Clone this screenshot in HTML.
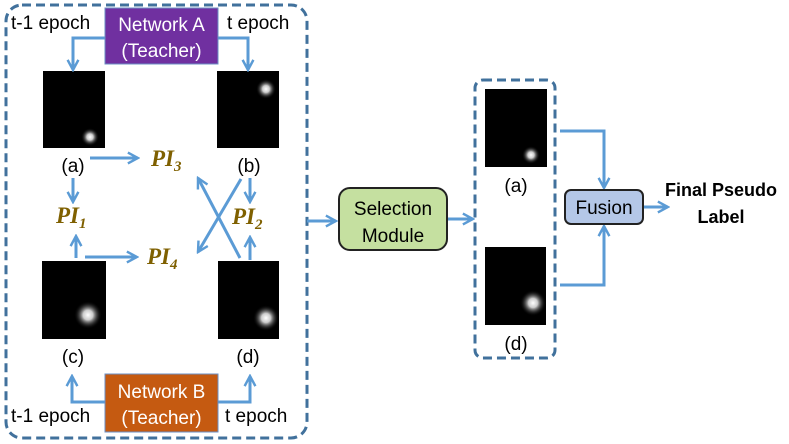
<!DOCTYPE html>
<html><head><meta charset="utf-8"><style>
html,body{margin:0;padding:0;background:#fff;}
svg{display:block;}
text{font-family:"Liberation Sans",sans-serif;}
.pi{font-family:"Liberation Serif",serif;font-weight:bold;font-style:italic;fill:#7f6000;font-size:23px;}
.pis{font-family:"Liberation Serif",serif;font-weight:bold;fill:#7f6000;font-size:15px;}
</style></head><body>
<svg width="789" height="444" viewBox="0 0 789 444" xmlns="http://www.w3.org/2000/svg">
<defs>
<marker id="ah" viewBox="0 0 10 10" refX="8.5" refY="5" markerWidth="4.5" markerHeight="4.5" orient="auto" markerUnits="strokeWidth">
<path d="M1,1 L8.5,5 L1,9" fill="none" stroke="#5b9bd5" stroke-width="1.8"/>
</marker>
<radialGradient id="sp"><stop offset="0" stop-color="#fff"/><stop offset="0.35" stop-color="#ccc"/><stop offset="1" stop-color="#000" stop-opacity="0"/></radialGradient>
</defs>
<g fill="none" stroke="#41719c" stroke-width="3" stroke-dasharray="9,5">
<rect x="6" y="5" width="301" height="433" rx="16"/>
<rect x="475" y="80" width="80" height="278" rx="8"/>
</g>
<rect x="43" y="71" width="62" height="77" fill="#000"/>
<circle cx="90" cy="137" r="9" fill="url(#sp)"/>
<rect x="217" y="71" width="62" height="77" fill="#000"/>
<circle cx="266" cy="89" r="10" fill="url(#sp)"/>
<rect x="42" y="261" width="64" height="78" fill="#000"/>
<circle cx="88" cy="315" r="14" fill="url(#sp)"/>
<rect x="218" y="261" width="61" height="78" fill="#000"/>
<circle cx="266" cy="318" r="13" fill="url(#sp)"/>
<rect x="485" y="89" width="62" height="78" fill="#000"/>
<circle cx="531" cy="155" r="9" fill="url(#sp)"/>
<rect x="485" y="247" width="61" height="78" fill="#000"/>
<circle cx="533" cy="303" r="13" fill="url(#sp)"/>
<g fill="none" stroke="#5b9bd5" stroke-width="3" marker-end="url(#ah)">
<path d="M105,38 H73 V70"/>
<path d="M218,38 H248 V70"/>
<path d="M90,158 H138"/>
<path d="M73,178 V202"/>
<path d="M250,178 V202"/>
<path d="M76,258 V236"/>
<path d="M250,260 V237"/>
<path d="M85,257 H137"/>
<path d="M241,179 L198,252"/>
<path d="M240,258 L198,178"/>
<path d="M105,402 H72 V376"/>
<path d="M218,402 H250 V376"/>
<path d="M307,221 H336"/>
<path d="M447,219 H473"/>
<path d="M560,131 H604 V188"/>
<path d="M560,285 H604 V226"/>
<path d="M643,207 H668"/>
</g>
<rect x="105" y="8" width="113" height="56" fill="#7030a0" stroke="#6b8fc4" stroke-width="1"/>
<text x="161.5" y="31" text-anchor="middle" fill="#fff" font-size="19">Network A</text>
<text x="161.5" y="57" text-anchor="middle" fill="#fff" font-size="19">(Teacher)</text>
<rect x="105" y="374" width="113" height="58" fill="#c55a11" stroke="#6b8fc4" stroke-width="1"/>
<text x="161.5" y="398" text-anchor="middle" fill="#fff" font-size="19">Network B</text>
<text x="161.5" y="424" text-anchor="middle" fill="#fff" font-size="19">(Teacher)</text>
<rect x="339" y="188" width="108" height="62" rx="11" fill="#c5e0a0" stroke="#222" stroke-width="2"/>
<text x="393" y="215" text-anchor="middle" font-size="19">Selection</text>
<text x="393" y="242" text-anchor="middle" font-size="19">Module</text>
<rect x="565" y="190" width="78" height="34" rx="6" fill="#b4c7e7" stroke="#222" stroke-width="2"/>
<text x="604" y="214" text-anchor="middle" font-size="19">Fusion</text>
<text x="721" y="196" text-anchor="middle" font-size="18" font-weight="bold">Final Pseudo</text>
<text x="721" y="223" text-anchor="middle" font-size="18" font-weight="bold">Label</text>
<g font-size="19">
<text x="11" y="29">t-1 epoch</text>
<text x="227" y="29">t epoch</text>
<text x="11" y="422">t-1 epoch</text>
<text x="225" y="422">t epoch</text>
<text x="73" y="172" text-anchor="middle">(a)</text>
<text x="249" y="172" text-anchor="middle">(b)</text>
<text x="73" y="363" text-anchor="middle">(c)</text>
<text x="248" y="363" text-anchor="middle">(d)</text>
<text x="516" y="192" text-anchor="middle">(a)</text>
<text x="516" y="350" text-anchor="middle">(d)</text>
</g>
<text class="pi" x="151" y="166">PI<tspan class="pis" dy="5">3</tspan></text>
<text class="pi" x="56" y="223">PI<tspan class="pis" dy="5">1</tspan></text>
<text class="pi" x="232" y="224">PI<tspan class="pis" dy="5">2</tspan></text>
<text class="pi" x="147" y="264">PI<tspan class="pis" dy="5">4</tspan></text>
</svg>
</body></html>
